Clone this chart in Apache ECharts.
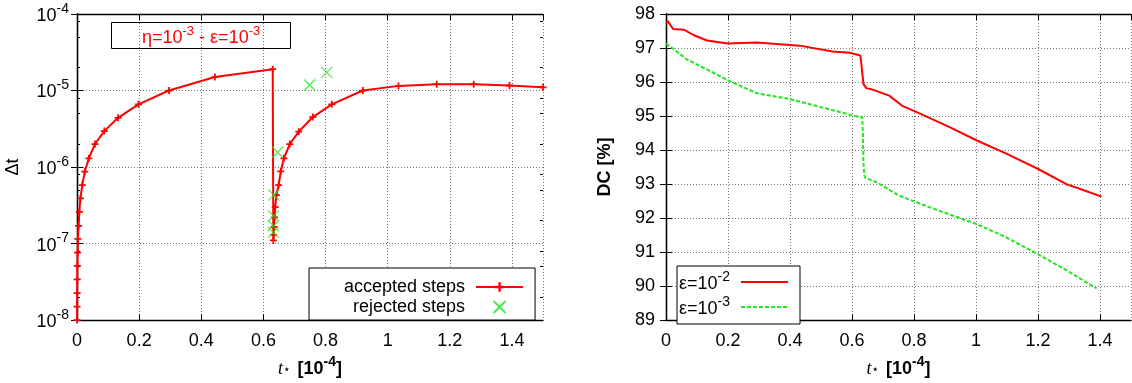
<!DOCTYPE html>
<html>
<head>
<meta charset="utf-8">
<script src="https://cdn.jsdelivr.net/npm/echarts@6/dist/echarts.min.js"></script>
<style>
html,body{margin:0;padding:0;background:#fff;}
#c{width:1132px;height:383px;}
</style>
</head>
<body>
<div id="c"></div>
<script>
// ---------- data (t in units of 1e-4) ----------
const acceptedT = [0, 0.0002, 0.0004, 0.0007, 0.0012, 0.002, 0.003, 0.005, 0.0075, 0.011, 0.017, 0.025, 0.038, 0.058, 0.088, 0.132, 0.198, 0.296, 0.444, 0.630,
  0.632, 0.633, 0.634, 0.636, 0.638, 0.642, 0.649, 0.656, 0.666, 0.685, 0.714, 0.759, 0.820, 0.920, 1.035, 1.158, 1.277, 1.392, 1.5];
const acceptedDt = [1e-8, 1.5e-8, 2.25e-8, 3.4e-8, 5.1e-8, 7.6e-8, 1.15e-7, 1.7e-7, 2.6e-7, 3.9e-7, 5.8e-7, 8.7e-7, 1.3e-6, 2.0e-6, 2.95e-6, 4.4e-6, 6.6e-6, 1.0e-5, 1.5e-5, 1.9e-5,
  1.1e-7, 1.3e-7, 1.65e-7, 2.2e-7, 3.0e-7, 4.3e-7, 5.8e-7, 8.8e-7, 1.3e-6, 2.0e-6, 2.9e-6, 4.5e-6, 6.6e-6, 1.0e-5, 1.15e-5, 1.21e-5, 1.21e-5, 1.16e-5, 1.1e-5];
const rejectedT = [0.632, 0.632, 0.633, 0.634, 0.646, 0.749, 0.804];
const rejectedDt = [1.4e-7, 1.7e-7, 2.3e-7, 4.3e-7, 1.56e-6, 1.18e-5, 1.73e-5];

const dcT2 = [0, 0.006, 0.023, 0.058, 0.087, 0.132, 0.200, 0.293, 0.431, 0.537, 0.592, 0.627, 0.632, 0.637, 0.646, 0.662, 0.720, 0.762, 0.807, 0.913, 1.003, 1.096, 1.199, 1.293, 1.341, 1.405];
const dc2  = [97.73, 97.79, 97.56, 97.54, 97.39, 97.22, 97.13, 97.16, 97.07, 96.90, 96.86, 96.78, 96.37, 95.94, 95.82, 95.79, 95.60, 95.30, 95.12, 94.68, 94.28, 93.90, 93.45, 92.99, 92.84, 92.63];
const dcT3 = [0, 0.023, 0.068, 0.132, 0.200, 0.293, 0.399, 0.495, 0.582, 0.601, 0.633, 0.635, 0.637, 0.640, 0.643, 0.678, 0.752, 0.826, 0.913, 1.003, 1.096, 1.199, 1.289, 1.389];
const dc3  = [97.13, 96.98, 96.66, 96.37, 96.05, 95.67, 95.50, 95.27, 95.07, 95.01, 94.97, 94.50, 93.60, 93.25, 93.18, 93.06, 92.66, 92.40, 92.11, 91.82, 91.44, 90.94, 90.48, 89.93];

// ---------- tick labels ----------
const xTickLabels = ['0', '0.2', '0.4', '0.6', '0.8', '1', '1.2', '1.4'];
const dtExponents = [-8, -7, -6, -5, -4];
const dtMinorMantissas = [2, 5, 8];
const dcTickLabels = ['89', '90', '91', '92', '93', '94', '95', '96', '97', '98'];

// ---------- styling ----------
const FONT = '"Liberation Sans", Arial, sans-serif';
const RED = '#ff0000';
const GREEN = '#22e622';
const FS = 18;

const dtMinor = [];
dtExponents.slice(0, -1).forEach(e => dtMinorMantissas.forEach(m => dtMinor.push(m * Math.pow(10, e))));

function xLabel(v) {
  const i = Math.round(v / 0.2);
  if (Math.abs(v - i * 0.2) < 1e-9 && xTickLabels[i] !== undefined) return xTickLabels[i];
  return '';
}
function dtLabel(v) {
  const e = Math.round(Math.log10(v));
  return dtExponents.includes(e) ? '{b|10}{s|' + e + '}' : '';
}
function dcLabel(v) {
  const s = String(Math.round(v));
  return dcTickLabels.includes(s) ? s : '';
}

const supRich = {
  b: { fontSize: FS, fontFamily: FONT, color: '#000', lineHeight: 22, verticalAlign: 'bottom' },
  s: { fontSize: 14, fontFamily: FONT, color: '#000', lineHeight: 14, verticalAlign: 'bottom', padding: [0, 0, 9, 0] }
};
const nameRich = {
  i: { fontSize: FS, fontFamily: '"Liberation Serif", serif', fontStyle: 'italic', color: '#000', lineHeight: 22, verticalAlign: 'bottom' },
  st: { fontSize: 12, fontFamily: '"DejaVu Sans", sans-serif', color: '#000', lineHeight: 12, verticalAlign: 'bottom', padding: [0, 2, 2, 0] },
  b: { fontSize: FS, fontFamily: FONT, fontWeight: 'bold', color: '#000', lineHeight: 22, verticalAlign: 'bottom' },
  bs: { fontSize: 14, fontFamily: FONT, fontWeight: 'bold', color: '#000', lineHeight: 14, verticalAlign: 'bottom', padding: [0, 0, 9, 0] }
};
const xName = '{i|t}{st|⋆}{b| [10}{bs|-4}{b|]}';

const gridLine = { show: true, lineStyle: { color: '#777', type: [1, 2], width: 1 } };
const frameLine = { show: true, lineStyle: { color: '#000', width: 1.3 } };

function xAxes(gridIndex) {
  return [
    {
      gridIndex, type: 'value', min: 0, max: 1.5, interval: 0.2, position: 'bottom',
      axisLine: frameLine,
      axisTick: { inside: true, length: 6, lineStyle: { color: '#000' } },
      axisLabel: { formatter: xLabel, showMaxLabel: false, fontSize: FS, fontFamily: FONT, color: '#000', margin: 12 },
      splitLine: gridLine,
      name: xName, nameLocation: 'middle', nameGap: 23,
      nameTextStyle: { rich: nameRich }
    },
    {
      gridIndex, type: 'value', min: 0, max: 1.5, interval: 0.2, position: 'top',
      axisLine: frameLine,
      axisTick: { inside: true, length: 6, lineStyle: { color: '#000' } },
      axisLabel: { show: false }, splitLine: { show: false }
    }
  ];
}

const option = {
  animation: false,
  textStyle: { fontFamily: FONT },
  title: {
    text: '{t|η=10}{s|-3}{t| - ε=10}{s|-3}',
    left: 111, top: 23,
    borderColor: '#000', borderWidth: 1,
    padding: [3, 31, 2, 31],
    textStyle: {
      fontWeight: 'normal',
      rich: {
        t: { fontSize: 18, fontFamily: FONT, fontWeight: 'normal', color: RED, lineHeight: 21, verticalAlign: 'bottom' },
        s: { fontSize: 13, fontFamily: FONT, fontWeight: 'normal', color: RED, lineHeight: 13, verticalAlign: 'bottom', padding: [0, 0, 9, 0] }
      }
    }
  },
  grid: [
    { left: 77, top: 14, width: 466, height: 310 },
    { left: 666, top: 14, width: 465, height: 310 }
  ],
  xAxis: [...xAxes(0), ...xAxes(1)],
  yAxis: [
    {
      gridIndex: 0, type: 'log', logBase: 10, min: 1e-8, max: 1e-4, position: 'left',
      axisLine: frameLine,
      axisTick: { inside: true, length: 6, lineStyle: { color: '#000' } },
      axisLabel: { formatter: dtLabel, rich: supRich, margin: 8 },
      splitLine: gridLine,
      name: 'Δt', nameLocation: 'middle', nameRotate: 90, nameGap: 55,
      nameTextStyle: { fontSize: FS, fontFamily: FONT, color: '#000' }
    },
    {
      gridIndex: 0, type: 'log', logBase: 10, min: 1e-8, max: 1e-4, position: 'right',
      axisLine: frameLine,
      axisTick: { inside: true, length: 6, lineStyle: { color: '#000' } },
      axisLabel: { show: false }, splitLine: { show: false }
    },
    {
      gridIndex: 0, type: 'log', logBase: 10, min: 1e-8, max: 1e-4, position: 'left',
      axisLine: { show: false },
      axisTick: { inside: true, length: 3, customValues: dtMinor, lineStyle: { color: '#000' } },
      axisLabel: { show: false }, splitLine: { show: false }
    },
    {
      gridIndex: 0, type: 'log', logBase: 10, min: 1e-8, max: 1e-4, position: 'right',
      axisLine: { show: false },
      axisTick: { inside: true, length: 3, customValues: dtMinor, lineStyle: { color: '#000' } },
      axisLabel: { show: false }, splitLine: { show: false }
    },
    {
      gridIndex: 1, type: 'value', min: 89, max: 98, interval: 1, position: 'left',
      axisLine: frameLine,
      axisTick: { inside: true, length: 6, lineStyle: { color: '#000' } },
      axisLabel: { formatter: dcLabel, fontSize: FS, fontFamily: FONT, color: '#000', margin: 11 },
      splitLine: gridLine,
      name: 'DC [%]', nameLocation: 'middle', nameRotate: 90, nameGap: 52,
      nameTextStyle: { fontSize: FS, fontFamily: FONT, fontWeight: 'bold', color: '#000' }
    },
    {
      gridIndex: 1, type: 'value', min: 89, max: 98, interval: 1, position: 'right',
      axisLine: frameLine,
      axisTick: { inside: true, length: 6, lineStyle: { color: '#000' } },
      axisLabel: { show: false }, splitLine: { show: false }
    }
  ],
  legend: [
    {
      data: ['accepted steps', 'rejected steps'],
      orient: 'vertical', align: 'right',
      left: 309, top: 268,
      padding: [10, 11, 4, 35],
      itemWidth: 47, itemHeight: 12, itemGap: 2,
      borderColor: '#000', borderWidth: 1, backgroundColor: '#fff',
      selectedMode: false,
      textStyle: { fontSize: FS, fontFamily: FONT, color: '#000', padding: [0, 6, 0, 0] }
    },
    {
      data: ['ε=10^-2', 'ε=10^-3'],
      orient: 'vertical', align: 'right',
      left: 677, top: 266,
      padding: [4, 11, 6, 2],
      itemWidth: 47, itemHeight: 12, itemGap: 2,
      borderColor: '#000', borderWidth: 1, backgroundColor: '#fff',
      selectedMode: false,
      itemStyle: { opacity: 0 },
      formatter: n => { const p = n.split('^'); return '{t|' + p[0] + '}{s|' + p[1] + '}'; },
      textStyle: {
        padding: [0, 6, 0, 0],
        rich: {
          t: { fontSize: FS, fontFamily: FONT, color: '#000', lineHeight: 22, verticalAlign: 'bottom' },
          s: { fontSize: 14, fontFamily: FONT, color: '#000', lineHeight: 14, verticalAlign: 'bottom', padding: [0, 0, 9, 0] }
        }
      }
    }
  ],
  series: [
    {
      name: 'accepted steps', type: 'line', xAxisIndex: 0, yAxisIndex: 0,
      data: acceptedT.map((t, i) => [t, acceptedDt[i]]),
      symbol: 'path://M-1,-4H1V-1H4V1H1V4H-1V1H-4V-1H-1Z', symbolSize: 7, showSymbol: true,
      itemStyle: { color: RED },
      lineStyle: { color: RED, width: 2 },
      z: 3
    },
    {
      name: 'rejected steps', type: 'scatter', xAxisIndex: 0, yAxisIndex: 0,
      data: rejectedT.map((t, i) => [t, rejectedDt[i]]),
      symbol: 'path://M0,0L10,10M10,0L0,10', symbolSize: 11,
      itemStyle: { color: 'rgba(0,0,0,0)', borderColor: GREEN, borderWidth: 1.2 },
      z: 4
    },
    {
      name: 'ε=10^-2', type: 'line', xAxisIndex: 2, yAxisIndex: 4,
      data: dcT2.map((t, i) => [t, dc2[i]]),
      showSymbol: false, symbol: 'none',
      lineStyle: { color: RED, width: 2 },
      itemStyle: { color: RED }
    },
    {
      name: 'ε=10^-3', type: 'line', xAxisIndex: 2, yAxisIndex: 4,
      data: dcT3.map((t, i) => [t, dc3[i]]),
      showSymbol: false, symbol: 'none',
      lineStyle: { color: GREEN, width: 2, type: [4, 2] },
      itemStyle: { color: GREEN }
    }
  ]
};

const chart = echarts.init(document.getElementById('c'), null, { renderer: 'canvas' });
chart.setOption(option);
</script>
</body>
</html>
